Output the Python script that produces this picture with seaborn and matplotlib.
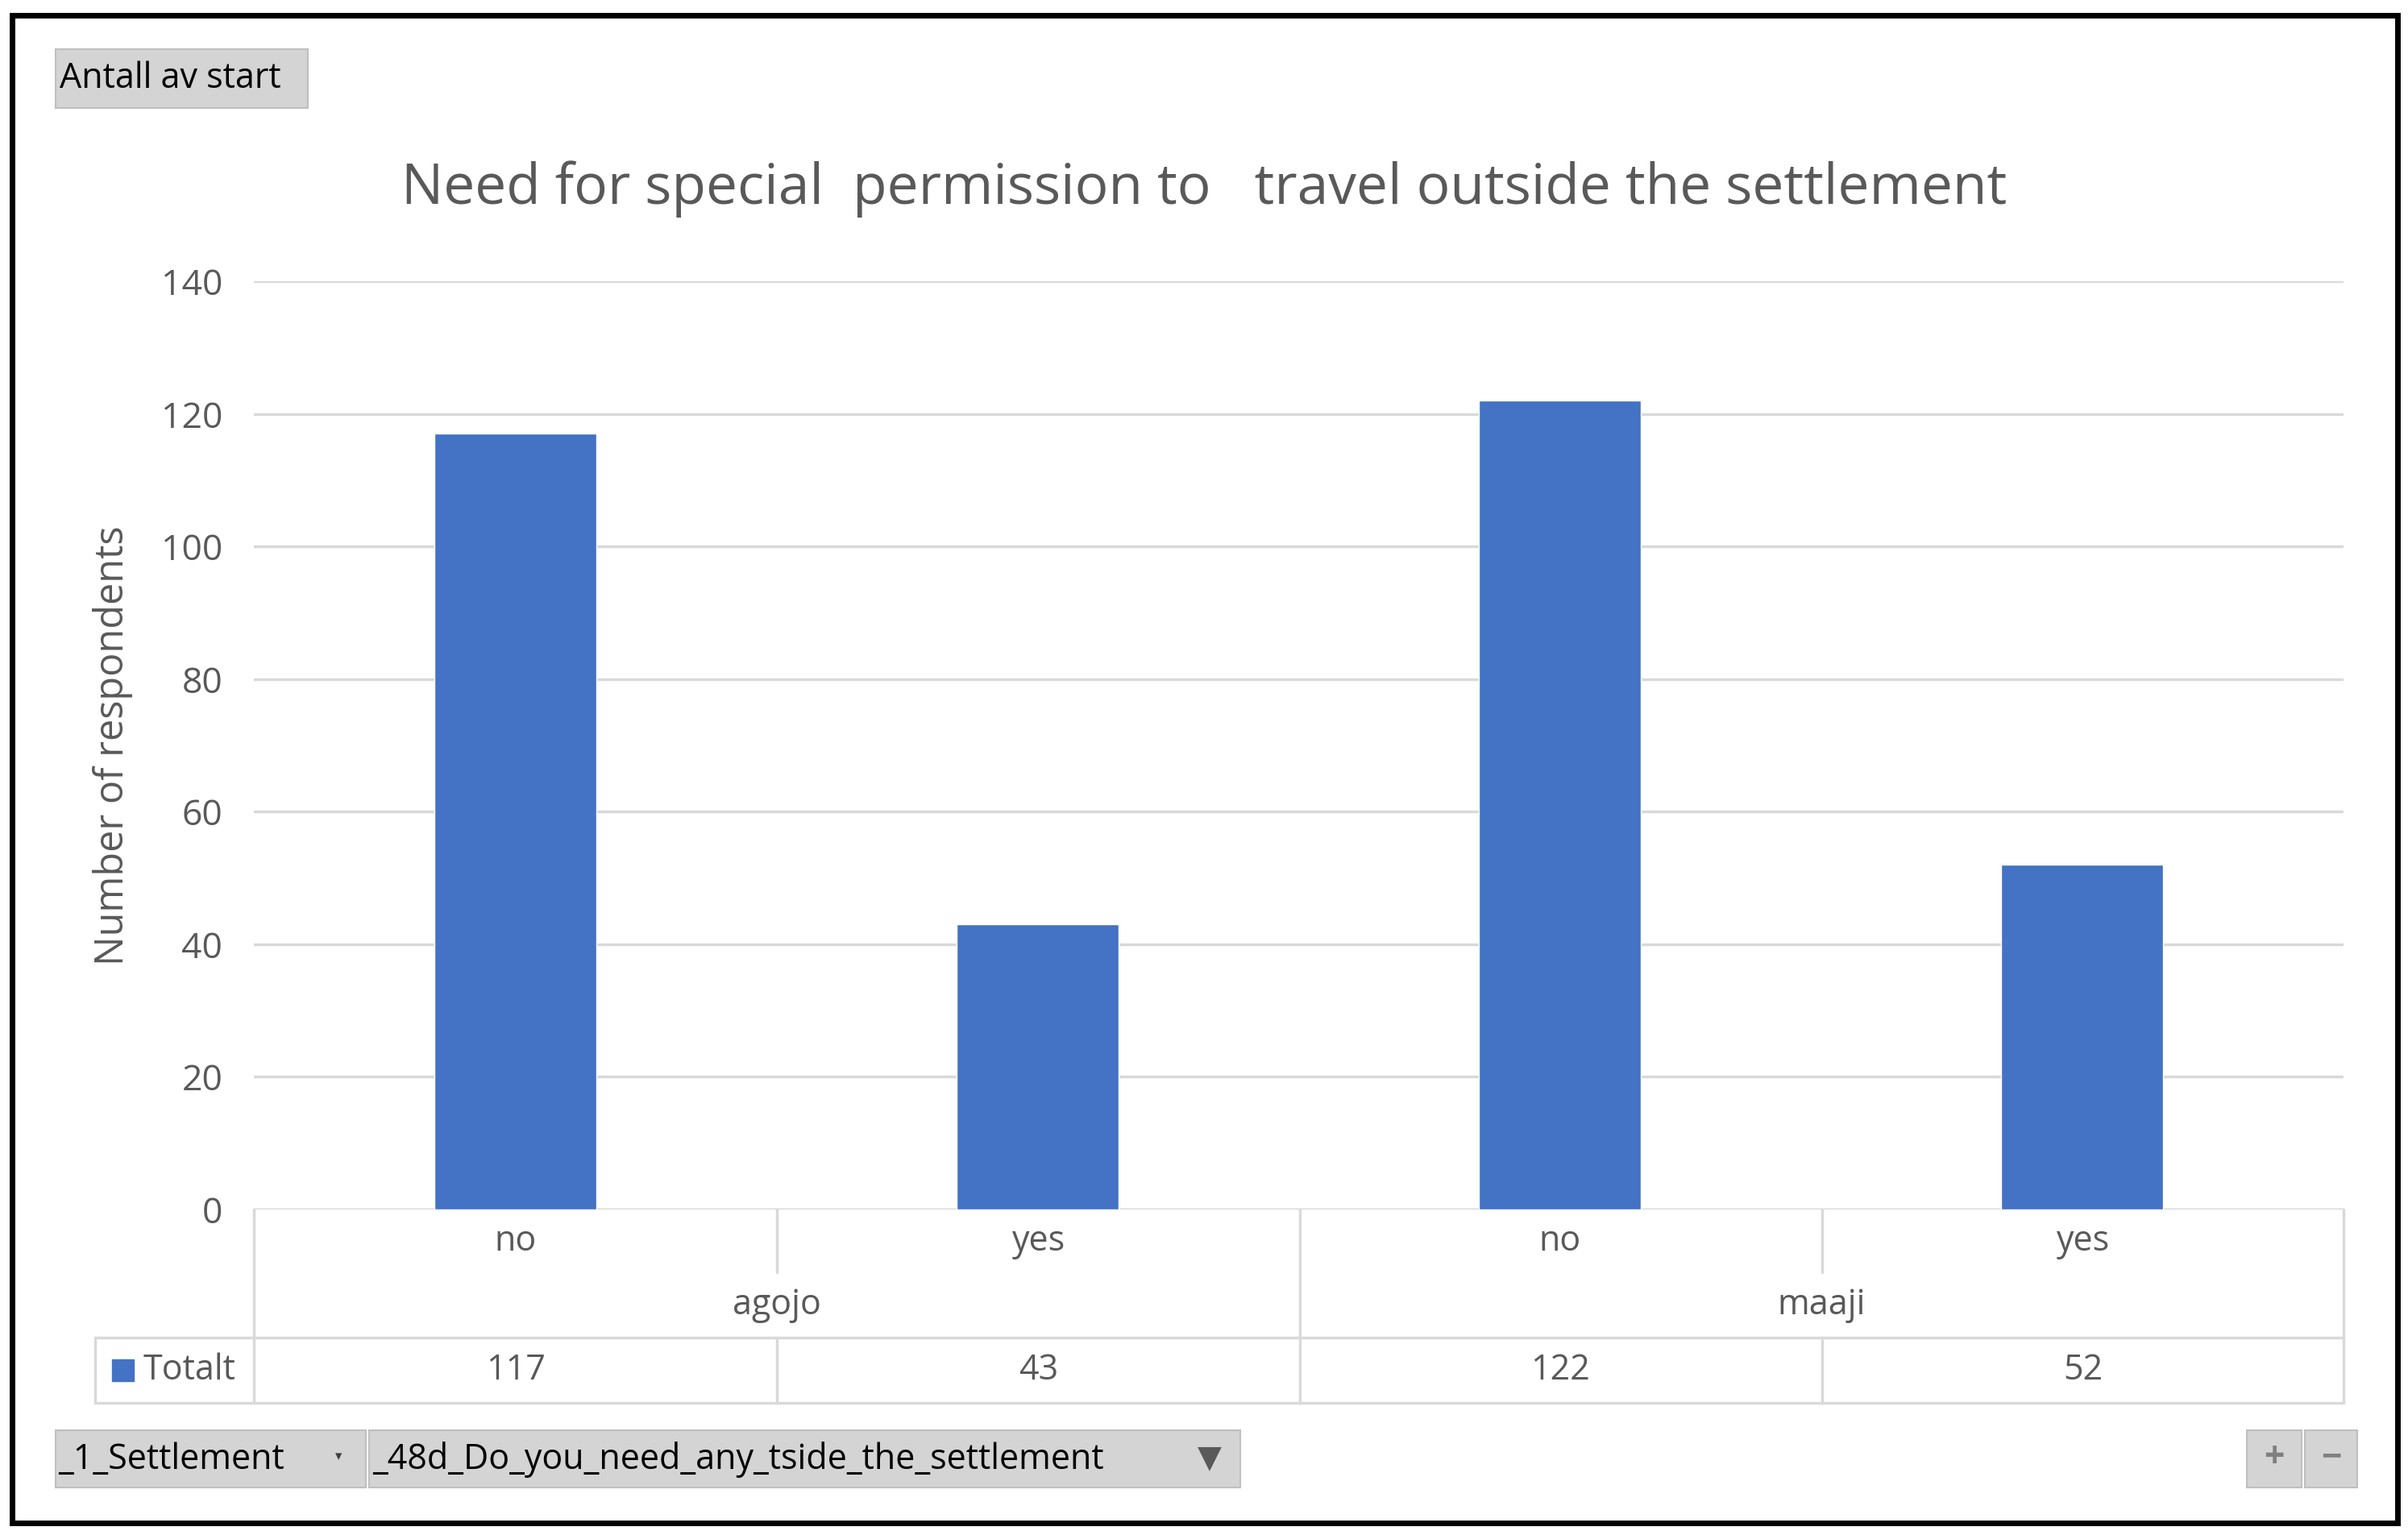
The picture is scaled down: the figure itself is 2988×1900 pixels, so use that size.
import matplotlib
matplotlib.use("Agg")
import matplotlib.pyplot as plt
import seaborn as sns
import pandas as pd
from matplotlib.patches import Rectangle
from matplotlib.lines import Line2D

settlements = ["agojo", "agojo", "maaji", "maaji"]
answers = ["no", "yes", "no", "yes"]
values = [117, 43, 122, 52]
yticks = [0, 20, 40, 60, 80, 100, 120, 140]

sns.set_theme(style="white")
plt.rcParams['font.family'] = ['Open Sans', 'DejaVu Sans']
TXT = "#595959"
BLUE = "#4472C4"
GRID = "#D9D9D9"

W, H = 1565.0, 990.0
fx = lambda x: x / W
fy = lambda y: 1 - y / H

fig = plt.figure(figsize=(29.88, 19), dpi=100)
ax = fig.add_axes([fx(165), fy(782), fx(1523) - fx(165), fy(182) - fy(782)])

df = pd.DataFrame({"pos": [f"{s}-{a}" for s, a in zip(settlements, answers)], "val": values})
sns.barplot(data=df, x="pos", y="val", color=BLUE, width=0.31, saturation=1, ax=ax, zorder=3)
ax.set_ylim(0, 140)
ax.set_xlim(-0.5, 3.5)
ax.set_yticks(yticks)
ax.set_yticklabels([str(v) for v in yticks], color=TXT, fontsize=32)
ax.tick_params(axis='y', length=0, pad=28)
ax.set_xticks([])
ax.set_xlabel("")
ax.set_ylabel("Number of respondents", color=TXT, fontsize=35, labelpad=25)
ax.yaxis.grid(True, color=GRID, linewidth=2.5, zorder=0)
for s in ax.spines.values():
    s.set_visible(False)
ax.axhline(0, color=GRID, linewidth=2.5, zorder=1)

fig.text(0.5, fy(122), "Need for special  permission to   travel outside the settlement",
         ha="center", va="center", color=TXT, fontsize=50)

def hline(y, x0, x1):
    fig.add_artist(Line2D([fx(x0), fx(x1)], [fy(y), fy(y)], color=GRID, lw=2.5))
def vline(x, y0, y1):
    fig.add_artist(Line2D([fx(x), fx(x)], [fy(y0), fy(y1)], color=GRID, lw=2.5))

hline(865, 62, 1523)
hline(907, 62, 1523)
vline(165, 782, 907)
vline(1523, 782, 907)
vline(845, 782, 907)
vline(62, 865, 907)
vline(505, 782, 823)
vline(1184, 782, 823)
vline(505, 865, 907)
vline(1184, 865, 907)

FS = 31
centers = [335, 675, 1014, 1354]
for c, a, v in zip(centers, answers, values):
    fig.text(fx(c), fy(803), a, ha="center", va="center", color=TXT, fontsize=FS)
    fig.text(fx(c), fy(886), str(v), ha="center", va="center", color=TXT, fontsize=FS)
fig.text(fx(505), fy(844), settlements[0], ha="center", va="center", color=TXT, fontsize=FS)
fig.text(fx(1184), fy(844), settlements[2], ha="center", va="center", color=TXT, fontsize=FS)
fig.add_artist(Rectangle((fx(73), fy(893)), fx(14), fy(879) - fy(893), color=BLUE))
fig.text(fx(93), fy(886), "Totalt", ha="left", va="center", color=TXT, fontsize=FS)

def button(x0, y0, x1, y1):
    fig.add_artist(Rectangle((fx(x0), fy(y1)), fx(x1) - fx(x0), fy(y0) - fy(y1),
                             facecolor="#D4D4D4", edgecolor="#BFBFBF", lw=1.5))
button(36, 32, 200, 70)
fig.text(fx(39), fy(51), "Antall av start", ha="left", va="center", color="black", fontsize=FS)
button(36, 925, 238, 962)
fig.text(fx(38), fy(944), "_1_Settlement", ha="left", va="center", color="black", fontsize=FS)
fig.text(fx(220), fy(942), "▾", ha="center", va="center", color="#404040", fontsize=12)
button(240, 925, 806, 962)
fig.text(fx(242), fy(944), "_48d_Do_you_need_any_tside_the_settlement", ha="left", va="center",
         color="black", fontsize=FS)
fig.text(fx(786), fy(943), "▼", ha="center", va="center", color="#595959", fontsize=28)
button(1460, 925, 1496, 962)
button(1498, 925, 1532, 962)
fig.text(fx(1478), fy(943), "+", ha="center", va="center", color="#808080", fontsize=32, weight="bold")
fig.text(fx(1515), fy(943), "−", ha="center", va="center", color="#808080", fontsize=32, weight="bold")

fig.add_artist(Rectangle((fx(8), fy(985)), fx(1558) - fx(8), fy(10) - fy(985),
                         fill=False, edgecolor="black", lw=5))

fig.savefig("out.png", dpi=100)
